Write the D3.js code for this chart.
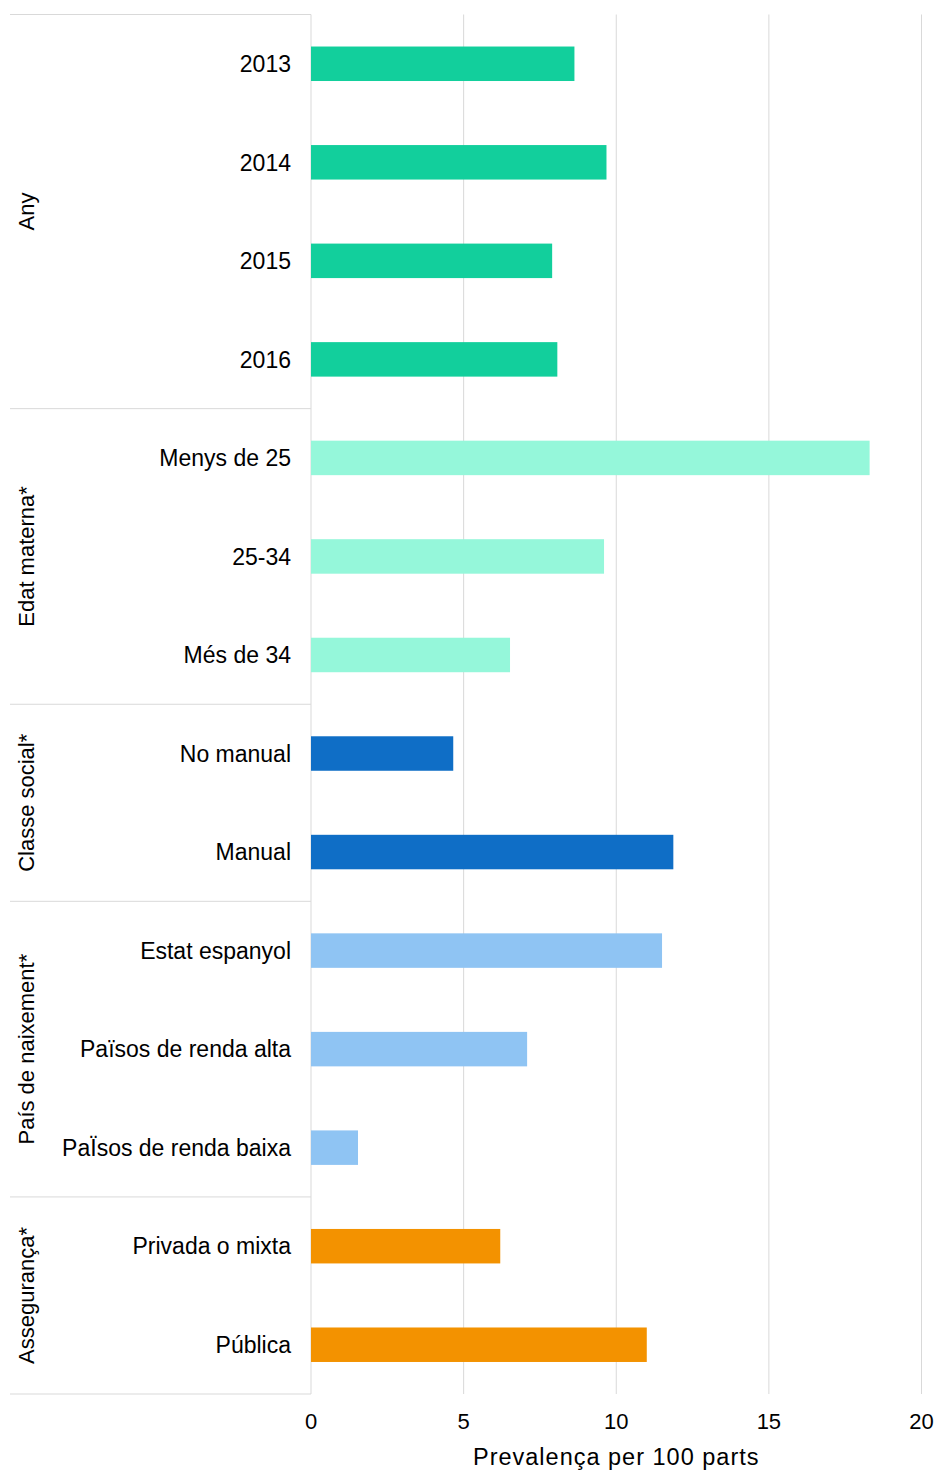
<!DOCTYPE html>
<html><head><meta charset="utf-8">
<script src="https://cdn.jsdelivr.net/npm/d3@7"></script>
<style>body{margin:0;background:#fff}svg{display:block}text{font-family:"Liberation Sans",Arial,sans-serif;fill:#000}</style>
</head><body><div id="c"></div>
<script>
const groups = ["Any","Edat materna*","Classe social*","País de naixement*","Assegurança*"];
const groupColors = ["#12CF9C","#95F7DA","#0F6EC6","#8FC4F3","#F39200"];
const categories = ["2013","2014","2015","2016","Menys de 25","25-34","Més de 34","No manual","Manual","Estat espanyol","Països de renda alta","PaÏsos de renda baixa","Privada o mixta","Pública"];
const categoryGroup = [0,0,0,0,1,1,1,2,2,3,3,3,4,4];
const values = [8.63,9.68,7.9,8.07,18.3,9.6,6.52,4.66,11.87,11.5,7.08,1.54,6.2,11.0];
const xTicks = [0,5,10,15,20];
const xTitle = "Prevalença per 100 parts";

const W=939,H=1470;
const m={left:311,right:939-921.5,top:14.5,bottom:H-1394};
const svg=d3.select("#c").append("svg").attr("width",W).attr("height",H);
const x=d3.scaleLinear().domain([0,20]).range([m.left,921.5]);
const y=d3.scaleBand().domain(d3.range(categories.length)).range([m.top,H-m.bottom]).paddingInner(0.65).paddingOuter(0.325);
const step=y.step();

// gridlines
svg.append("g").selectAll("line").data(xTicks.slice(1)).join("line")
 .attr("x1",d=>x(d)).attr("x2",d=>x(d)).attr("y1",m.top).attr("y2",H-m.bottom)
 .attr("stroke","#d9d9d9").attr("stroke-width",1);
// vertical axis line
svg.append("line").attr("x1",x(0)).attr("x2",x(0)).attr("y1",m.top).attr("y2",H-m.bottom).attr("stroke","#d9d9d9");

// group separators
const bounds=[0];
groups.forEach((g,i)=>{bounds.push(categoryGroup.filter(c=>c<=i).length);});
svg.append("g").selectAll("line").data(bounds).join("line")
 .attr("x1",10).attr("x2",x(0)).attr("y1",d=>m.top+d*step).attr("y2",d=>m.top+d*step)
 .attr("stroke","#d9d9d9");

// bars
svg.append("g").selectAll("rect").data(values).join("rect")
 .attr("x",x(0)).attr("y",(d,i)=>y(i)).attr("width",d=>x(d)-x(0)).attr("height",y.bandwidth())
 .attr("fill",(d,i)=>groupColors[categoryGroup[i]]);

// category labels
svg.append("g").selectAll("text").data(categories).join("text")
 .attr("x",291).attr("y",(d,i)=>y(i)+y.bandwidth()/2).attr("dy","0.36em")
 .attr("text-anchor","end").attr("font-size",23).text(d=>d);

// group labels
svg.append("g").selectAll("text").data(groups).join("text")
 .attr("transform",(d,i)=>`translate(34,${m.top+(bounds[i]+bounds[i+1])/2*step}) rotate(-90)`)
 .attr("text-anchor","middle").attr("font-size",22).text(d=>d);

// x tick labels
svg.append("g").selectAll("text").data(xTicks).join("text")
 .attr("x",d=>x(d)).attr("y",1429).attr("text-anchor","middle").attr("font-size",22).text(d=>d);
svg.append("text").attr("x",(x(0)+x(20))/2).attr("y",1465).attr("text-anchor","middle")
 .attr("font-size",23.5).attr("letter-spacing",1).style("white-space","pre").text(xTitle);
</script></body></html>
